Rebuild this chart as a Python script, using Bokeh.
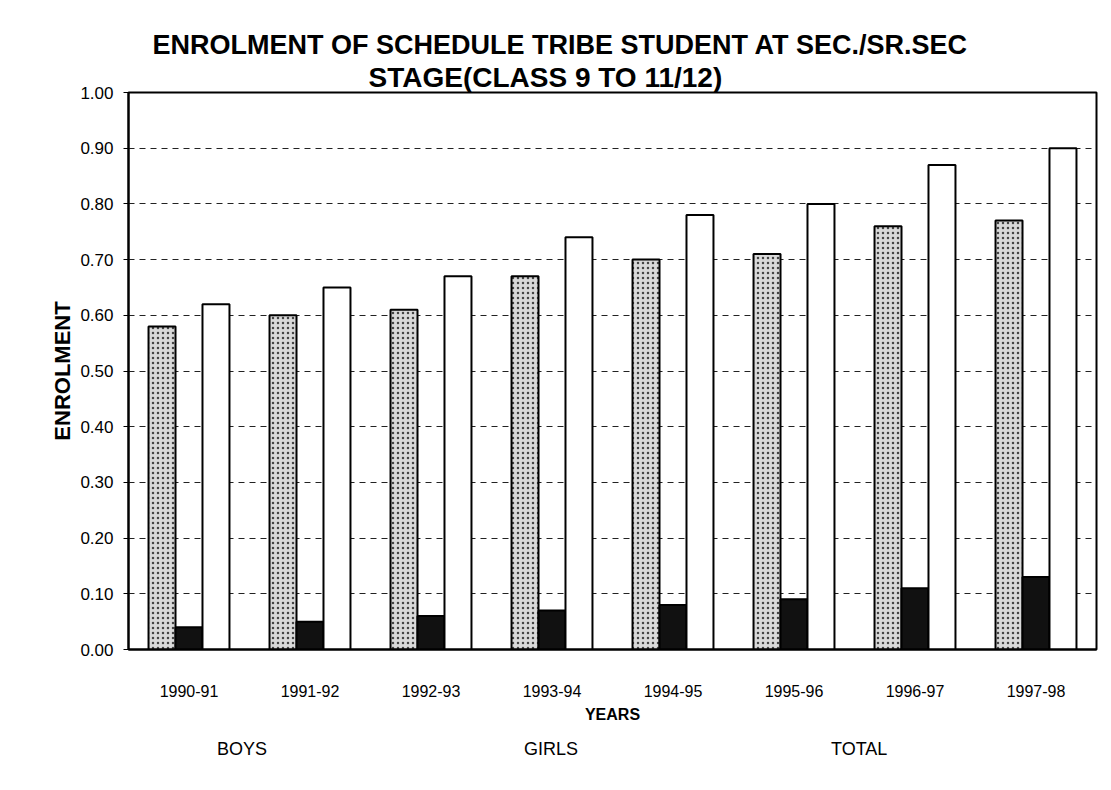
from bokeh.plotting import figure
from bokeh.layouts import column
from bokeh.models import (ColumnDataSource, FactorRange, Range1d, FixedTicker,
                          NumeralTickFormatter, Legend, LegendItem, Title,
                          CDSView, IndexFilter)
from bokeh.transform import dodge
from bokeh.embed import file_html
from bokeh.resources import INLINE

# ---- data ----
years = ["1990-91", "1991-92", "1992-93", "1993-94",
         "1994-95", "1995-96", "1996-97", "1997-98"]
boys = [0.58, 0.60, 0.61, 0.67, 0.70, 0.71, 0.76, 0.77]
girls = [0.04, 0.05, 0.06, 0.07, 0.08, 0.09, 0.11, 0.13]
total = [0.62, 0.65, 0.67, 0.74, 0.78, 0.80, 0.87, 0.90]
y_ticks = [0.0, 0.1, 0.2, 0.3, 0.4, 0.5, 0.6, 0.7, 0.8, 0.9, 1.0]
title_line1 = "ENROLMENT OF SCHEDULE TRIBE STUDENT AT SEC./SR.SEC"
title_line2 = "STAGE(CLASS 9 TO 11/12)"
series_names = ["BOYS", "GIRLS", "TOTAL"]

src = ColumnDataSource(dict(years=years, boys=boys, girls=girls, total=total))

FONT = "Liberation Sans"

BOYS_STYLE = dict(fill_color="#d9d9d9", line_color="black", line_width=2,
                  hatch_pattern="dot", hatch_color="#444444", hatch_scale=5,
                  hatch_weight=1.2)
GIRLS_STYLE = dict(fill_color="#111111", line_color="black", line_width=2)
TOTAL_STYLE = dict(fill_color="white", line_color="black", line_width=2)

p = figure(frame_width=968, frame_height=557, x_range=FactorRange(*years),
           y_range=Range1d(0, 1.0), output_backend="svg",
           toolbar_location=None, title=None,
           min_border_left=128, min_border_right=12,
           min_border_top=92, min_border_bottom=80)

bw = 0.223
p.vbar(x=dodge("years", -bw, range=p.x_range), top="boys", width=bw,
       source=src, **BOYS_STYLE)
p.vbar(x=dodge("years", 0, range=p.x_range), top="girls", width=bw,
       source=src, **GIRLS_STYLE)
p.vbar(x=dodge("years", bw, range=p.x_range), top="total", width=bw,
       source=src, **TOTAL_STYLE)

# titles (second line closest to the frame)
t2 = Title(text=title_line2, align="left", text_font=FONT, text_font_size="28px",
           text_font_style="bold", text_color="black", standoff=0, offset=240)
t1 = Title(text=title_line1, align="left", text_font=FONT, text_font_size="27px",
           text_font_style="bold", text_color="black", standoff=0, offset=24)
p.add_layout(t2, "above")
p.add_layout(t1, "above")

# axes
p.yaxis.ticker = FixedTicker(ticks=y_ticks)
p.yaxis.formatter = NumeralTickFormatter(format="0.00")
p.yaxis.axis_label = "ENROLMENT"
p.yaxis.axis_label_text_font = FONT
p.yaxis.axis_label_text_font_size = "22px"
p.yaxis.axis_label_text_font_style = "bold"
p.yaxis.axis_label_text_color = "black"
p.yaxis.axis_label_standoff = 2
p.yaxis.major_label_text_font = FONT
p.yaxis.major_label_text_font_size = "17px"
p.yaxis.major_label_text_color = "black"
p.yaxis.major_label_standoff = 10
p.yaxis.major_tick_out = 5
p.yaxis.major_tick_in = 0
p.yaxis.minor_tick_line_color = None
p.yaxis.axis_line_width = 2
p.yaxis.axis_line_color = "black"
p.yaxis.major_tick_line_color = "black"

p.xaxis.axis_label = "YEARS"
p.xaxis.axis_label_text_font = FONT
p.xaxis.axis_label_text_font_size = "16px"
p.xaxis.axis_label_text_font_style = "bold"
p.xaxis.axis_label_text_color = "black"
p.xaxis.axis_label_standoff = 6
p.xaxis.major_label_text_font = FONT
p.xaxis.major_label_text_font_size = "16px"
p.xaxis.major_label_text_color = "black"
p.xaxis.major_label_standoff = 29
p.xaxis.major_tick_line_color = None
p.xaxis.axis_line_width = 2
p.xaxis.axis_line_color = "black"

# grid
p.xgrid.grid_line_color = None
p.ygrid.grid_line_color = "#222222"
p.ygrid.grid_line_dash = "6 5"
p.ygrid.grid_line_width = 1

p.outline_line_color = "black"
p.outline_line_width = 2
p.background_fill_color = "white"
p.border_fill_color = "white"

# ---- legend strip below the chart: same bar styles, no rows drawn ----
lg = figure(frame_width=968, height=50, x_range=FactorRange(*years),
            y_range=Range1d(2, 3), output_backend="svg", toolbar_location=None,
            x_axis_type=None, y_axis_type=None,
            min_border_left=128, min_border_right=12, min_border_top=0,
            min_border_bottom=0, outline_line_color=None)
lg.xgrid.visible = False
lg.ygrid.visible = False
no_rows = CDSView(filter=IndexFilter(indices=[]))
lr_boys = lg.vbar(x="years", top="boys", width=bw, source=src, view=no_rows,
                  **BOYS_STYLE)
lr_girls = lg.vbar(x="years", top="girls", width=bw, source=src,
                   view=CDSView(filter=IndexFilter(indices=[])), **GIRLS_STYLE)
lr_total = lg.vbar(x="years", top="total", width=bw, source=src,
                   view=CDSView(filter=IndexFilter(indices=[])), **TOTAL_STYLE)

legend = Legend(items=[LegendItem(label=series_names[0], renderers=[lr_boys]),
                       LegendItem(label=series_names[1], renderers=[lr_girls]),
                       LegendItem(label=series_names[2], renderers=[lr_total])],
                orientation="horizontal", location=(71, 19),
                label_text_font=FONT, label_text_font_size="18px",
                label_text_color="black",
                glyph_width=13, glyph_height=13, label_standoff=5,
                label_width=60, spacing=229, padding=6, margin=0,
                border_line_color=None, background_fill_alpha=0)
lg.add_layout(legend, "center")

layout = column(p, lg, spacing=0)
open("out.html", "w").write(file_html(layout, INLINE))
